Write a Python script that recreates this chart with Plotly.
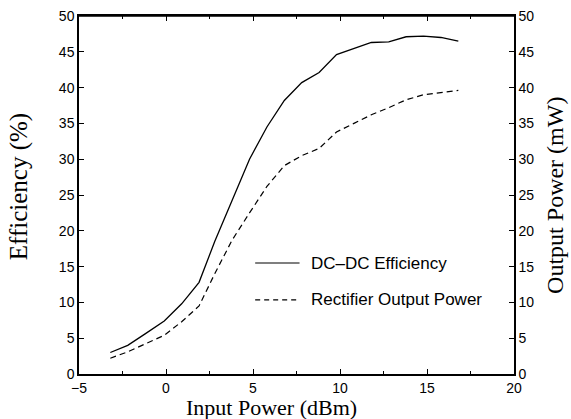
import plotly.graph_objects as go

input_power = [-3.2, -2.2, -1.2, -0.1, 0.9, 1.9, 2.8, 3.8, 4.8, 5.8, 6.8,
               7.8, 8.8, 9.8, 10.8, 11.8, 12.8, 13.8, 14.8, 15.8, 16.8]
dcdc_efficiency = [3.0, 4.0, 5.6, 7.4, 9.8, 12.8, 18.5, 24.3, 30.0, 34.5, 38.2,
                   40.7, 42.1, 44.6, 45.4, 46.3, 46.4, 47.1, 47.2, 47.0, 46.5]
rectifier_output_power = [2.2, 3.1, 4.2, 5.4, 7.3, 9.5, 14.0, 18.7, 22.5, 26.2, 29.1,
                          30.5, 31.5, 33.8, 35.0, 36.2, 37.2, 38.3, 39.0, 39.3, 39.6]
x_ticks = [-5, 0, 5, 10, 15, 20]
y_ticks = [0, 5, 10, 15, 20, 25, 30, 35, 40, 45, 50]
legend_names = ["DC\u2013DC Efficiency", "Rectifier Output Power"]
x_title = "Input Power (dBm)"
y_title = "Efficiency (%)"
y2_title = "Output Power (mW)"

fig = go.Figure()
fig.add_trace(go.Scatter(x=input_power, y=dcdc_efficiency, mode="lines",
                         line=dict(color="black", width=1.3), name=legend_names[0],
                         showlegend=False))
fig.add_trace(go.Scatter(x=input_power, y=rectifier_output_power, mode="lines",
                         line=dict(color="black", width=1.2, dash="6px,4px"),
                         name=legend_names[1], yaxis="y2", showlegend=False))

tickfont = dict(family="Liberation Sans, Arial, sans-serif", size=14, color="black")
serif = "Liberation Serif, Times New Roman, serif"

fig.update_layout(
    width=571, height=419,
    margin=dict(l=79, r=57, t=16, b=45, autoexpand=False),
    plot_bgcolor="white", paper_bgcolor="white",
    xaxis=dict(range=[-5, 20], tickvals=x_ticks, ticks="inside", ticklen=5,
               tickcolor="black", showline=True, linecolor="black", linewidth=1.5,
               mirror="ticks", showgrid=False, zeroline=False, tickfont=tickfont,
               automargin=False,
               minor=dict(dtick=2.5, ticks="inside", ticklen=3, tickcolor="black")),
    yaxis=dict(range=[0, 50], tickvals=y_ticks, ticks="inside", ticklen=5,
               tickcolor="black", showline=True, linecolor="black", linewidth=1.5,
               showgrid=False, zeroline=False, tickfont=tickfont, automargin=False),
    yaxis2=dict(range=[0, 50], tickvals=y_ticks, ticks="inside", ticklen=5,
                tickcolor="black", showline=True, linecolor="black", linewidth=1.5,
                overlaying="y", side="right", showgrid=False, zeroline=False,
                tickfont=tickfont, automargin=False),
)

# top frame line
fig.add_shape(type="line", xref="paper", yref="paper", x0=0, x1=1, y0=1, y1=1,
              line=dict(color="black", width=1.5))

fig.add_annotation(xref="paper", yref="paper", x=0.443, y=-0.094, text=x_title,
                   showarrow=False, xanchor="center", yanchor="middle",
                   font=dict(family=serif, size=22, color="black"))
fig.add_annotation(xref="paper", yref="paper", x=-0.136, y=0.524, text=y_title,
                   showarrow=False, xanchor="center", yanchor="middle", textangle=-90,
                   font=dict(family=serif, size=25, color="black"))
fig.add_annotation(xref="paper", yref="paper", x=1.094, y=0.50, text=y2_title,
                   showarrow=False, xanchor="center", yanchor="middle", textangle=-90,
                   font=dict(family=serif, size=24, color="black"))

legend_y = [0.310, 0.207]
legend_dash = ["solid", "5px,4px"]
for name, ly, dash in zip(legend_names, legend_y, legend_dash):
    fig.add_shape(type="line", xref="paper", yref="paper", x0=0.405, x1=0.507,
                  y0=ly, y1=ly, line=dict(color="black", width=1.2, dash=dash))
    fig.add_annotation(xref="paper", yref="paper", x=0.528, y=ly, text=name,
                       showarrow=False, xanchor="left", yanchor="middle",
                       font=dict(family="Liberation Sans, Arial, sans-serif", size=17,
                                 color="black"))

fig.write_html("out.html", config={"displayModeBar": False},
               post_script="document.body.style.margin='0';document.body.style.overflow='hidden';")
